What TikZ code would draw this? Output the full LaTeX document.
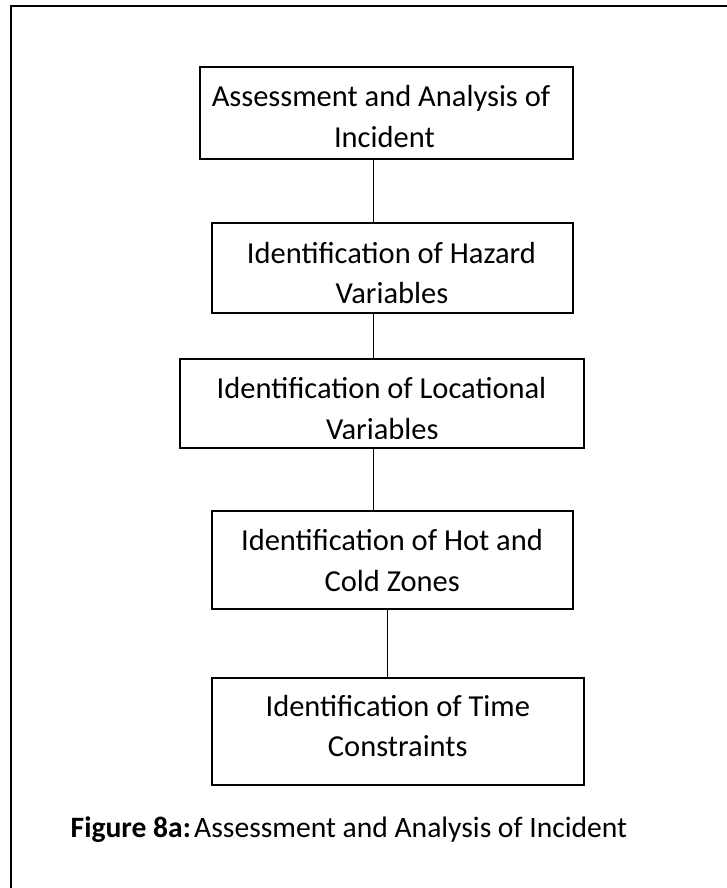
\documentclass[tikz,border=0pt]{standalone}
\usepackage{fontspec}
\setmainfont{Carlito}
\begin{document}
\frenchspacing
\begin{tikzpicture}[x=1pt,y=-1pt,
  stage/.style={draw=black, line width=1.8pt, rectangle, inner sep=0pt},
  boxtext/.style={anchor=base, inner sep=0pt, font=\fontsize{30.5}{41}\selectfont},
  link/.style={draw=black, line width=1.4pt},
  frameline/.style={draw=black, line width=2.2pt}]
\useasboundingbox (0,0) rectangle (726,888);

% outer frame (left and top sides)
\coordinate (fcorner) at (11,5.7);
\draw[frameline] (11,892) -- (fcorner) -- (730,5.7);

% flow stages
\node[stage, minimum width=373pt,   minimum height=92pt]   (b1) at (386.5,112.7) {};
\node[stage, minimum width=360.3pt, minimum height=90.6pt] (b2) at (392.45,268) {};
\node[stage, minimum width=403.3pt, minimum height=89.3pt] (b3) at (382,403.65) {};
\node[stage, minimum width=360.3pt, minimum height=98.3pt] (b4) at (392.45,559.85) {};
\node[stage, minimum width=372pt,   minimum height=107pt]  (b5) at (398.3,731.2) {};

% stage texts
\node[boxtext] (t1a) at (381,106.7) {Assessment and Analysis of};
\node[boxtext] (t1b) at (384.4,147.7) {Incident};
\node[boxtext] (t2a) at (391.5,263) {Identification of Hazard};
\node[boxtext] (t2b) at (392,303) {Variables};
\node[boxtext] (t3a) at (381.5,398.3) {Identification of Locational};
\begin{scope}
  \clip (b3.north west) rectangle (726,438.5);
  \node[boxtext] (t3b) at (382.3,439.5) {Variables};
\end{scope}
\node[boxtext] (t4a) at (392,550) {Identification of Hot and};
\node[boxtext] (t4b) at (392.2,591) {Cold Zones};
\node[boxtext] (t5a) at (397.8,716.7) {Identification of Time};
\node[boxtext] (t5b) at (397.8,756.7) {Constraints};

% connectors
\coordinate (spine) at (373.7,0);
\coordinate (spineb) at (387.6,0);
\draw[link] (b1.south -| spine) -- (b2.north -| spine);
\draw[link] (b2.south -| spine) -- (b3.north -| spine);
\draw[link] (b3.south -| spine) -- (b4.north -| spine);
\draw[link] (b4.south -| spineb) -- (b5.north -| spineb);

% caption
\node[boxtext, anchor=base west, font=\fontsize{29.6}{40}\selectfont] (cap) at (70.5,837.7)
  {\textbf{Figure 8a:\kern-3.5pt} Assessment and Analysis of Incident};
\end{tikzpicture}
\end{document}
